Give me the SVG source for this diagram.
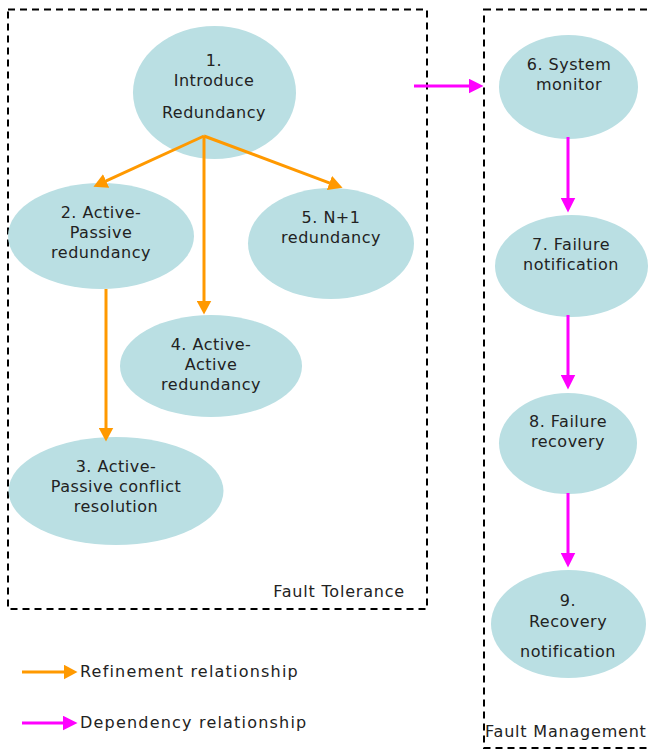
<svg xmlns="http://www.w3.org/2000/svg" width="650" height="751" viewBox="0 0 650 751">
<style>
.node{fill:#badfe3;stroke:none}
.t{font-family:"DejaVu Sans",Verdana,sans-serif;font-size:16px;letter-spacing:0.5px;fill:#222;text-anchor:middle}
.lbl{font-family:"DejaVu Sans",Verdana,sans-serif;font-size:16px;letter-spacing:0.8px;fill:#222}
.leg{font-family:"DejaVu Sans",Verdana,sans-serif;font-size:16px;letter-spacing:1.2px;fill:#222}
.box{fill:none;stroke:#000;stroke-width:2;stroke-dasharray:7 5}
.ref{fill:none;stroke:#ff9900;stroke-width:3;marker-end:url(#ah-o)}
.dep{fill:none;stroke:#ff00ff;stroke-width:3;marker-end:url(#ah-p)}
</style>
<defs>
<marker id="ah-o" viewBox="0 0 14 15" refX="0.5" refY="7.5" markerWidth="14" markerHeight="15" markerUnits="userSpaceOnUse" orient="auto"><path d="M0,0 L14,7.5 L0,15 z" fill="#ff9900"/></marker>
<marker id="ah-p" viewBox="0 0 15 15" refX="0.5" refY="7.5" markerWidth="15" markerHeight="15" markerUnits="userSpaceOnUse" orient="auto"><path d="M0,0 L15,7.5 L0,15 z" fill="#ff00ff"/></marker>
</defs>
<g id="group-fault-tolerance">
<rect class="box" x="8" y="9.5" width="419" height="599.5"/>
<text class="lbl" x="405" y="597" text-anchor="end">Fault Tolerance</text>
</g>
<g id="group-fault-management">
<rect class="box" x="484" y="9.5" width="180" height="738.5"/>
<text class="lbl" x="485" y="737">Fault Management</text>
</g>
<g id="n1"><ellipse class="node" cx="214.5" cy="92.5" rx="81.5" ry="66.5"/>
<text class="t" x="214" y="66">1.</text><text class="t" x="214" y="86">Introduce</text><text class="t" x="214" y="118">Redundancy</text></g>
<g id="n2"><ellipse class="node" cx="101" cy="236" rx="93" ry="53"/>
<text class="t" x="101" y="218">2. Active-</text><text class="t" x="101" y="238">Passive</text><text class="t" x="101" y="258">redundancy</text></g>
<g id="n5"><ellipse class="node" cx="331" cy="243.5" rx="83" ry="55.5"/>
<text class="t" x="331" y="223">5. N+1</text><text class="t" x="331" y="243">redundancy</text></g>
<g id="n4"><ellipse class="node" cx="211" cy="366" rx="91" ry="51"/>
<text class="t" x="211" y="350">4. Active-</text><text class="t" x="211" y="370">Active</text><text class="t" x="211" y="390">redundancy</text></g>
<g id="n3"><ellipse class="node" cx="116" cy="491" rx="107.5" ry="54"/>
<text class="t" x="116" y="472">3. Active-</text><text class="t" x="116" y="492">Passive conflict</text><text class="t" x="116" y="512">resolution</text></g>
<g id="n6"><ellipse class="node" cx="568.5" cy="87" rx="69.5" ry="52"/>
<text class="t" x="569" y="70">6. System</text><text class="t" x="569" y="90">monitor</text></g>
<g id="n7"><ellipse class="node" cx="571.5" cy="266" rx="76.5" ry="51"/>
<text class="t" x="571" y="250">7. Failure</text><text class="t" x="571" y="270">notification</text></g>
<g id="n8"><ellipse class="node" cx="568" cy="443.5" rx="69" ry="50.5"/>
<text class="t" x="568" y="427">8. Failure</text><text class="t" x="568" y="447">recovery</text></g>
<g id="n9"><ellipse class="node" cx="568.5" cy="624" rx="77.5" ry="54"/>
<text class="t" x="568" y="606">9.</text><text class="t" x="568" y="627">Recovery</text><text class="t" x="568" y="657">notification</text></g>
<g id="connectors">
<line class="ref" x1="204" y1="136" x2="105.7" y2="181.2"/>
<line class="ref" x1="204" y1="136" x2="329.9" y2="183.1"/>
<line class="ref" x1="204" y1="136" x2="204" y2="301"/>
<line class="ref" x1="106" y1="289" x2="106" y2="428"/>
<line class="dep" x1="414" y1="86" x2="469" y2="86"/>
<line class="dep" x1="568" y1="137" x2="568" y2="198"/>
<line class="dep" x1="568" y1="315" x2="568" y2="375"/>
<line class="dep" x1="568" y1="493" x2="568" y2="553"/>
</g>
<g id="legend">
<line class="ref" x1="22" y1="672" x2="64" y2="672"/>
<text class="leg" x="80" y="677">Refinement relationship</text>
<line class="dep" x1="22" y1="723" x2="63" y2="723"/>
<text class="leg" x="80" y="728">Dependency relationship</text>
</g>
</svg>
